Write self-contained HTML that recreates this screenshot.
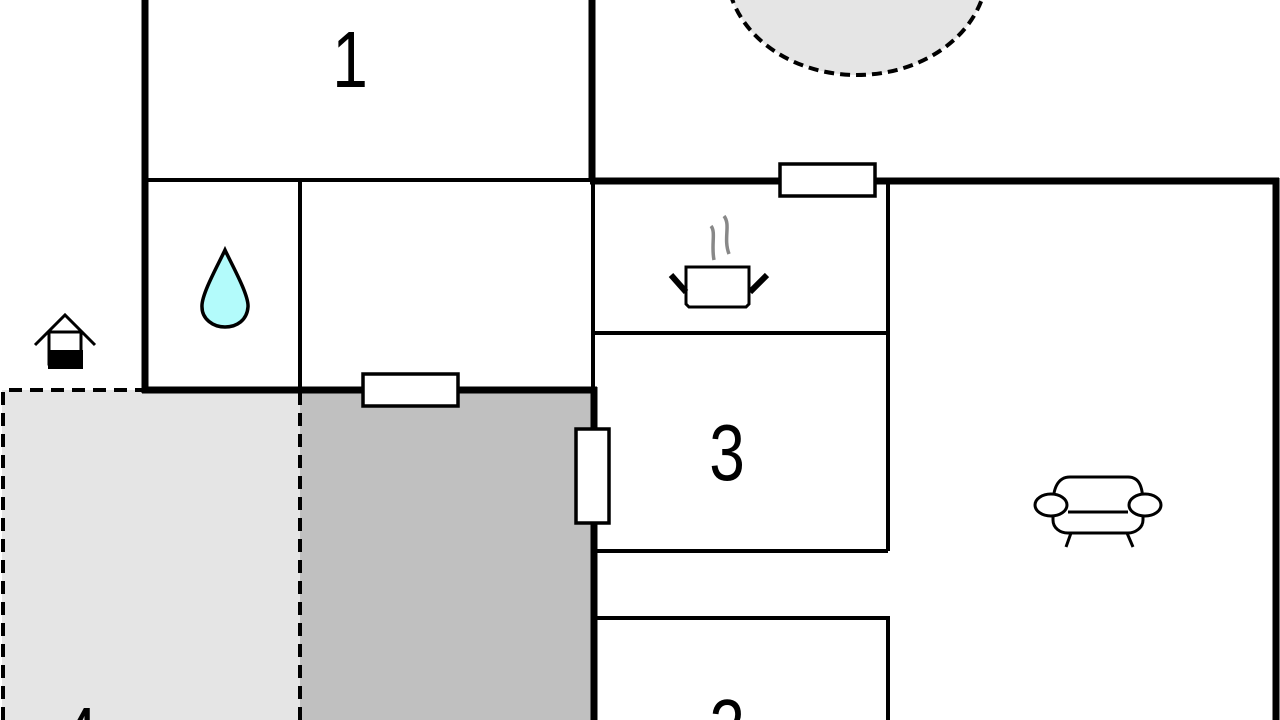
<!DOCTYPE html>
<html><head><meta charset="utf-8"><style>
html,body{margin:0;padding:0;background:#fff;width:1280px;height:720px;overflow:hidden;}
svg{display:block;}
text{font-family:"Liberation Sans",sans-serif;}
</style></head><body>
<svg width="1280" height="720" viewBox="0 0 1280 720" xmlns="http://www.w3.org/2000/svg" overflow="hidden">
<rect x="0" y="0" width="1280" height="720" fill="#fff"/>
<rect x="2" y="390" width="298" height="330" fill="#e5e5e5"/>
<rect x="300" y="390" width="292" height="330" fill="#c0c0c0"/>
<ellipse cx="857" cy="-30" rx="130" ry="105" fill="#e5e5e5" stroke="#000" stroke-width="4" stroke-dasharray="10,6"/>
<path d="M3 720 V390 H142" fill="none" stroke="#000" stroke-width="4" stroke-dasharray="13,8"/>
<path d="M300 392 V720" fill="none" stroke="#000" stroke-width="4" stroke-dasharray="13,8"/>
<g stroke="#000" stroke-width="7" fill="none">
<path d="M145 0 V393"/>
<path d="M142 390 H597"/>
<path d="M592 0 V181"/>
<path d="M594 387 V720"/>
<path d="M590 181 H1279"/>
<path d="M1276 178 V720"/>
</g>
<g stroke="#000" stroke-width="4" fill="none">
<path d="M145 180 H592"/>
<path d="M300 180 V390"/>
<path d="M593 181 V390"/>
<path d="M593 333 H888"/>
<path d="M888 181 V551"/>
<path d="M594 551 H888"/>
<path d="M594 618 H888 V720"/>
</g>
<g fill="#fff" stroke="#000" stroke-width="3.5">
<rect x="780" y="164" width="95" height="32"/>
<rect x="363" y="374" width="95" height="32"/>
<rect x="576" y="429" width="33" height="94"/>
</g>
<g font-size="80" fill="#000" text-anchor="middle">
<text transform="translate(350,87) scale(0.8,1)">1</text>
<text transform="translate(727,480) scale(0.8,1)">3</text>
<text transform="translate(727,755) scale(0.8,1)">2</text>
<text transform="translate(80,763) scale(0.8,1)">4</text>
</g>
<path d="M225 250 C232 265 249 295 248 307 C247 320 237 327 225 327 C213 327 202 319 202 307 C201 295 218 265 225 250 Z" fill="#b3fbfb" stroke="#000" stroke-width="3.5"/>
<g stroke="#000" stroke-width="3" fill="none">
<path d="M35 345 L65 315 L95 345"/>
<rect x="49" y="332" width="32" height="32" fill="#fff"/>
</g>
<rect x="48" y="350" width="35" height="19" fill="#000"/>
<g stroke="#888" stroke-width="3.5" fill="none">
<path d="M711 226 C716 232 711 245 714 260"/>
<path d="M724 216 C731 225 723 238 729 254"/>
</g>
<g stroke="#000" stroke-width="3" fill="none">
<path d="M686 294 V304 L689 307 H746 L749 304 V294 V293 V267 H686 Z" fill="#fff"/>
<path d="M671 275 L686 292" stroke-width="6"/>
<path d="M767 275 L750 292" stroke-width="6"/>
</g>
<g stroke="#000" stroke-width="3" fill="#fff">
<path d="M1053 520 V505 C1053 488 1058 477 1070 477 H1128 C1140 477 1143 488 1143 505 V520 C1143 528 1135 533 1128 533 H1068 C1060 533 1053 528 1053 520 Z"/>
<path d="M1068 512 H1128" fill="none"/>
<ellipse cx="1051" cy="505" rx="16" ry="11"/>
<ellipse cx="1145" cy="505" rx="16" ry="11"/>
<path d="M1071 533 L1066 547 M1127 533 L1133 547" fill="none"/>
</g>
</svg>
</body></html>
